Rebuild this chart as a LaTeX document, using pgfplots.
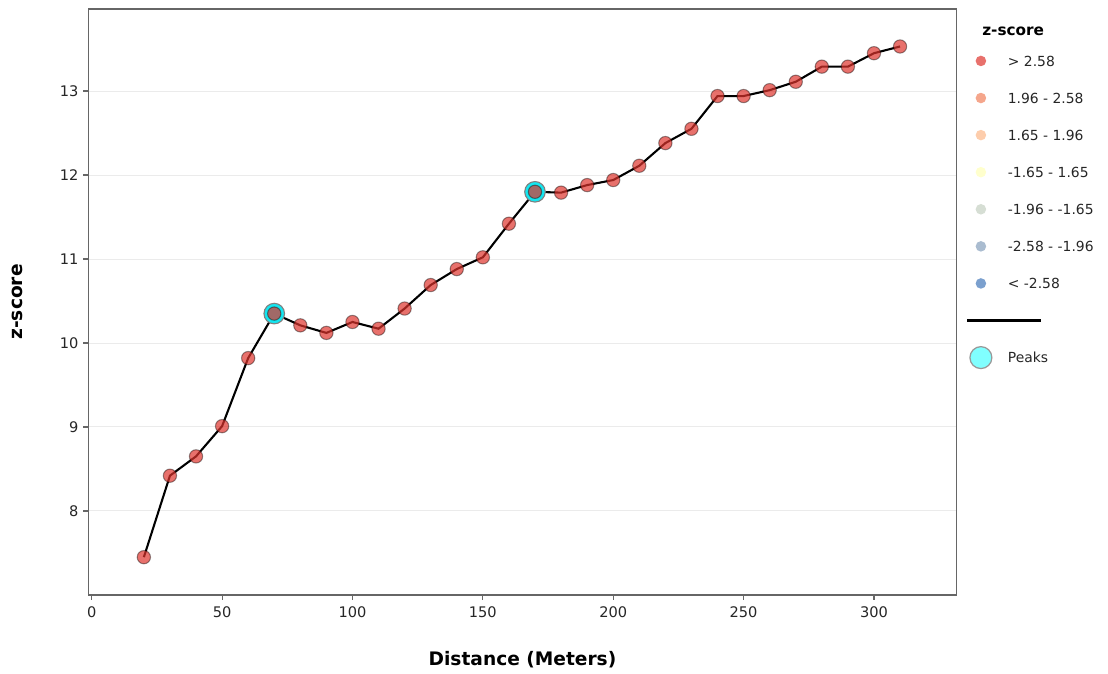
\documentclass[border=0pt]{standalone}
\usepackage{pgfplots}
\pgfplotsset{compat=1.18}
\usepackage{fontspec}
\setmainfont{DejaVu Sans}
\definecolor{axgray}{RGB}{102,102,102}
\definecolor{txt}{RGB}{38,38,38}
\definecolor{gridc}{RGB}{235,235,235}
\definecolor{ptred}{RGB}{222,52,45}
\definecolor{cA}{RGB}{232,113,108}
\definecolor{cB}{RGB}{245,166,140}
\definecolor{cC}{RGB}{253,205,172}
\definecolor{cD}{RGB}{255,255,205}
\definecolor{cE}{RGB}{214,222,212}
\definecolor{cF}{RGB}{170,188,208}
\definecolor{cG}{RGB}{123,160,206}
\definecolor{peakc}{RGB}{20,230,240}
\definecolor{peakleg}{RGB}{128,255,255}
\pgfplotstableread{
x y
20 7.45
30 8.42
40 8.65
50 9.01
60 9.82
70 10.35
80 10.21
90 10.12
100 10.25
110 10.17
120 10.41
130 10.69
140 10.88
150 11.02
160 11.42
170 11.80
180 11.79
190 11.88
200 11.94
210 12.11
220 12.38
230 12.55
240 12.94
250 12.94
260 13.01
270 13.11
280 13.29
290 13.29
300 13.45
310 13.53
}\datatab
\pgfplotstableread{
x y
70 10.35
170 11.80
}\peaktab
\newcommand{\legdot}[1]{\addlegendimage{legend image code/.code={%
  \path[draw=none,fill=none] (-3.6pt,-5.5pt) rectangle (3.6pt,5.5pt);
  \fill[#1,draw=none,overlay] (0,1.15pt) circle (3.8pt);}}}
\begin{document}
\begin{tikzpicture}
\useasboundingbox (-63.6pt,-56.2pt) rectangle (734.2pt,428.4pt);
\begin{axis}[
  scale only axis,
  width=625.2pt, height=421.9pt,
  xmin=-1.3, xmax=331.7, ymin=7.0, ymax=13.976,
  xtick={0,50,...,300}, ytick={8,9,...,13},
  tick pos=left, tick align=outside,
  major tick length=3.6pt,
  every tick/.style={axgray, line width=0.8pt},
  axis line style={axgray, line width=1pt},
  ymajorgrids, grid style={gridc, line width=0.7pt},
  /pgf/number format/assume math mode=true,
  ticklabel style={font=\fontsize{10.5}{12}\selectfont, text=txt},
  xticklabel style={yshift=-1pt},
  xlabel={Distance (Meters)}, ylabel={z-score},
  label style={font=\fontsize{13.4}{15}\selectfont\bfseries, text=black},
  x label style={at={(axis description cs:0.5,-0.1109)}, anchor=center},
  y label style={at={(axis description cs:-0.0821,0.5)}, anchor=center, rotate=0},
  legend style={at={(axis description cs:1.0222,0.9217)}, anchor=north west,
    draw=none, fill=none, inner sep=0pt, outer sep=0pt,
    row sep=15.7pt, column sep=15.84pt,
    font=\fontsize{10}{12}\selectfont, text=txt,
    nodes={inner sep=0pt, text height=8pt, text depth=3pt}},
  legend cell align=left,
]
\addplot[black, line width=1.5pt, forget plot] table[x=x,y=y] {\datatab};
\addplot[only marks, mark=*, mark size=7.4pt,
  mark options={fill=peakc, draw=gray, line width=0.8pt}, forget plot]
  table[x=x,y=y] {\peaktab};
\addplot[only marks, mark=*, mark size=4.8pt,
  mark options={fill=ptred, fill opacity=0.7, draw=black, draw opacity=0.4, line width=0.75pt}, forget plot]
  table[x=x,y=y] {\datatab};
\legdot{cA}\addlegendentry{> 2.58}
\legdot{cB}\addlegendentry{1.96 - 2.58}
\legdot{cC}\addlegendentry{1.65 - 1.96}
\legdot{cD}\addlegendentry{-1.65 - 1.65}
\legdot{cE}\addlegendentry{-1.96 - -1.65}
\legdot{cF}\addlegendentry{-2.58 - -1.96}
\legdot{cG}\addlegendentry{< -2.58}
\addlegendimage{legend image code/.code={%
  \path[draw=none,fill=none] (-3.6pt,-5.5pt) rectangle (3.6pt,5.5pt);
  \fill[black, draw=none, overlay] (-10.1pt,0.35pt) rectangle (43.2pt,1.95pt);}}
\addlegendentry{}
\addlegendimage{legend image code/.code={%
  \path[draw=none,fill=none] (-3.6pt,-5.5pt) rectangle (3.6pt,5.5pt);
  \draw[fill=peakleg, draw=gray!80, line width=0.9pt, overlay] (0,1.15pt) circle (7.9pt);}}
\addlegendentry{Peaks}
\end{axis}
\node[anchor=west, font=\fontsize{11}{13}\selectfont\bfseries, inner sep=0pt] at (643.5pt,405.6pt) {z-score};
\end{tikzpicture}
\end{document}
